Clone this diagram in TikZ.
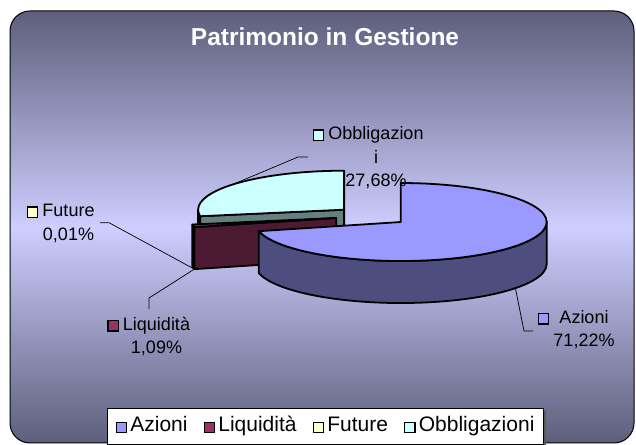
\documentclass[tikz,border=0pt]{standalone}
\usepackage{fontspec}
\setmainfont{Liberation Sans}
\usepackage{tikz}
\usetikzlibrary{positioning,calc}

\definecolor{azioni}{RGB}{153,153,255}
\definecolor{azionidark}{RGB}{77,77,128}
\definecolor{liquid}{RGB}{153,51,102}
\definecolor{liquiddark}{RGB}{77,26,51}
\definecolor{future}{RGB}{255,255,204}
\definecolor{obbl}{RGB}{204,255,255}
\definecolor{obbldark}{RGB}{102,128,128}
\definecolor{bgdark}{RGB}{94,94,124}
\definecolor{bglight}{RGB}{206,206,255}

\newcommand{\keybox}[1]{{\setlength{\fboxsep}{0pt}\setlength{\fboxrule}{1.4bp}\fcolorbox{black}{#1}{\hbox to 9bp{\vrule height 9bp width 0pt\hfil}}}}

\tikzset{slice/.style={draw=black, line width=1.8bp, line join=round},
  rim/.style={x radius=146, y radius=39},
  lbl/.style={align=center, anchor=north, inner sep=0pt, font=\fontsize{18bp}{23.5bp}\selectfont},
  leader/.style={draw=black, line width=0.7bp},
  legendbox/.style={draw=black, fill=white, line width=0.8bp, minimum width=436bp,
    text height=16bp, text depth=4bp, inner ysep=8bp, font=\fontsize{21bp}{25bp}\selectfont}}

\begin{document}
\begin{tikzpicture}[x=1bp, y=1bp]
    \useasboundingbox (0,0) rectangle (636,445);
    \shadedraw [rounded corners=20bp, top color=bgdark, bottom color=bgdark, middle color=bglight, draw=black, line width=1bp]
      (10,2) rectangle (634,434);
    \node [text=white, font=\bfseries\fontsize{24.5bp}{29bp}\selectfont, anchor=base] (title) at (325,399) {Patrimonio in Gestione};

    \coordinate (ctr) at (372,229);
    \path (ctr) ++(-38.2:36.5 and 9.75) coordinate (azA);
    \path (ctr) ++(139.8:36.5 and 9.75) coordinate (obA);
    \path (ctr) ++(191.6:36.5 and 9.75) coordinate (lqA);

    \filldraw [slice, fill=obbldark] (obA) ++(180:146 and 39) arc [rim, start angle=180, end angle=189.65]
      -- ++(0,-42) arc [rim, start angle=189.65, end angle=180] -- cycle;
    \filldraw [slice, fill=obbldark] (obA) -- ++(189.65:146 and 39) -- ++(0,-42) -- ($(obA)+(0,-42)$) -- cycle;
    \filldraw [slice, fill=obbl] (obA) -- ++(90:146 and 39) arc [rim, start angle=90, end angle=189.65] -- cycle;

    \filldraw [slice, fill=liquiddark] (lqA) ++(189.68:146 and 39) arc [rim, start angle=189.68, end angle=193.61]
      -- ++(0,-42) arc [rim, start angle=193.61, end angle=189.68] -- cycle;
    \filldraw [slice, fill=liquiddark] (lqA) -- ++(193.61:146 and 39) -- ++(0,-42) -- ($(lqA)+(0,-42)$) -- cycle;
    \filldraw [slice, fill=liquid] (lqA) -- ++(189.68:146 and 39) arc [rim, start angle=189.68, end angle=193.61] -- cycle;

    \filldraw [slice, fill=azionidark] (azA) ++(193.61:146 and 39) arc [rim, start angle=193.61, end angle=360]
      -- ++(0,-42) arc [rim, start angle=360, end angle=193.61] -- cycle;
    \filldraw [slice, fill=azioni] (azA) -- ++(90:146 and 39) arc [rim, start angle=90, end angle=-166.39] -- cycle;

    \path (obA) ++(139.82:146 and 39) coordinate (obMid);
    \path (lqA) ++(193.61:146 and 39) ++(0,-42) coordinate (lqFoot);
    \path (azA) ++(-38.2:146 and 39) ++(0,-42) coordinate (azFoot);

    \node [lbl] (obLbl) at (376,319.5) {\rule{0pt}{14bp}\llap{\keybox{obbl}\hspace{4bp}}Obbligazion\\i\\27,68\%};
    \node [lbl] (fuLbl) at (68.5,242.3) {\rule{0pt}{14bp}\llap{\keybox{future}\hspace{4bp}}Future\\0,01\%};
    \node [lbl] (lqLbl) at (156.5,129) {\rule{0pt}{14bp}\llap{\keybox{liquid}\hspace{4bp}}Liquidità\\1,09\%};
    \node [lbl] (azLbl) at (584,136) {\rule{0pt}{14bp}\llap{\keybox{azioni}\hspace{10bp}}Azioni\\71,22\%};

    \coordinate (obKnee) at (298,288);
    \coordinate (obEnd) at (308,288);
    \coordinate (fuKnee) at (109,222.3);
    \coordinate (fuEnd) at (100,222.3);
    \coordinate (lqKnee) at (149,147);
    \coordinate (lqEnd) at (149,136);
    \coordinate (azKnee) at (524,114);
    \coordinate (azEnd) at (533,114);
    \draw [leader] (obMid) -- (obKnee) -- (obEnd);
    \draw [leader] (lqFoot) -- (fuKnee) -- (fuEnd);
    \draw [leader] (lqFoot) -- (lqKnee) -- (lqEnd);
    \draw [leader] (azFoot) -- (azKnee) -- (azEnd);

    \fill [black!65] (110,-2) rectangle (546,34);
    \node [legendbox] (legend) at (325,19) {\keybox{azioni}\hspace{3bp}Azioni\hspace{16bp}\keybox{liquid}\hspace{3bp}Liquidità\hspace{16bp}\keybox{future}\hspace{3bp}Future\hspace{16bp}\keybox{obbl}\hspace{3bp}Obbligazioni};
  \end{tikzpicture}
\end{document}
